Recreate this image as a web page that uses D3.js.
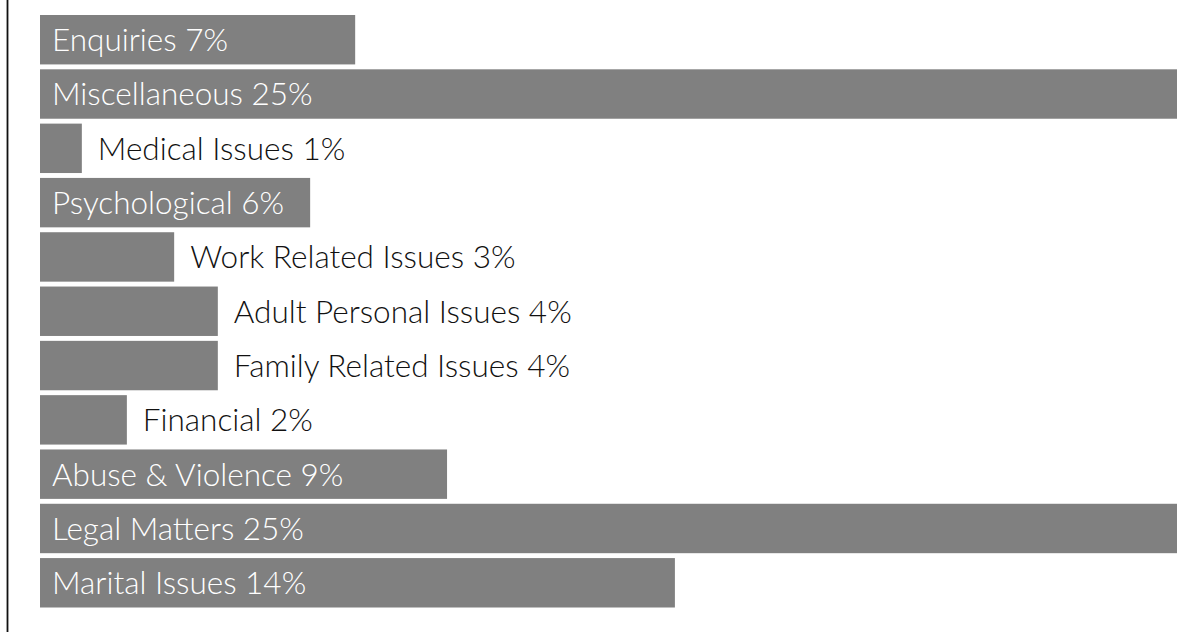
<!DOCTYPE html>
<html>
  <head>
    <meta charset="utf-8">
    <title>Enquiry categories</title>
    <style type="text/css">
    body { margin: 0; background: #fff; }
    .label { font-family: Lato, sans-serif; font-weight: 300; font-size: 31.5px; }
    </style>
  </head>
  <body>
    <div id="chart"></div>
    <script src="https://d3js.org/d3.v7.min.js"></script>
    <script>

    var categories = ["Enquiries", "Miscellaneous", "Medical Issues", "Psychological",
      "Work Related Issues", "Adult Personal Issues", "Family Related Issues",
      "Financial", "Abuse & Violence", "Legal Matters", "Marital Issues"];
    var values = [6.93, 25, 0.92, 5.94, 2.95, 3.91, 3.91, 1.91, 8.95, 25, 13.96];

    var width = 1190,
        height = 634;

    var data = categories.map(function(c, i) { return {label: c, value: values[i]}; });

    var svg = d3.select("#chart")
      .append("svg")
      .attr("width", width)
      .attr("height", height);

    var x = d3.scaleLinear()
      .domain([0, 25])
      .range([40, 1177]);

    var y = d3.scaleBand()
      .domain(categories)
      .range([15, 607.5])
      .paddingInner(0.09)
      .paddingOuter(0);

    // left axis line
    svg.append("line")
      .attr("x1", 7.5).attr("x2", 7.5)
      .attr("y1", 0).attr("y2", 632)
      .style("stroke", "#111")
      .style("stroke-width", 1.8);

    var g = svg.selectAll(".bar")
      .data(data)
      .enter().append("g")
      .attr("class", "bar");

    g.append("rect")
      .attr("x", x(0))
      .attr("y", function(d) { return y(d.label); })
      .attr("width", function(d) { return x(d.value) - x(0); })
      .attr("height", y.bandwidth())
      .style("fill", "#808080");

    // label goes inside the bar if it fits, otherwise just past its end
    g.append("text")
      .attr("class", "label")
      .attr("y", function(d) { return y(d.label) + y.bandwidth() / 2; })
      .attr("dy", "0.36em")
      .text(function(d) { return d.label + " " + Math.round(d.value) + "%"; })
      .each(function(d) {
        var t = d3.select(this);
        var w = this.getComputedTextLength();
        var barW = x(d.value) - x(0);
        if (w + 24 < barW) {
          t.attr("x", x(0) + 12).style("fill", "#fff");
        } else {
          t.attr("x", x(d.value) + 16).style("fill", "#111");
        }
      });

    </script>
  </body>
</html>
